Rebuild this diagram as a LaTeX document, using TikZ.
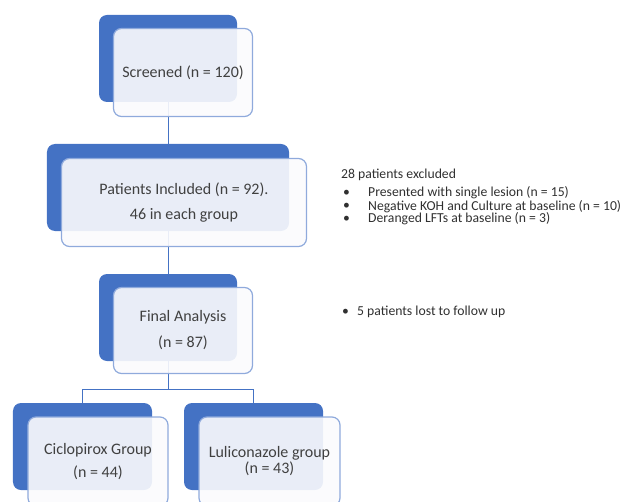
\documentclass[tikz,border=0pt]{standalone}
\usepackage{fontspec}
\setmainfont{Carlito}
\usetikzlibrary{calc}
\definecolor{darkblue}{HTML}{4472C4}
\definecolor{lightborder}{HTML}{8FAADC}
\definecolor{txt}{HTML}{404040}
\definecolor{sidetxt}{HTML}{303030}
\definecolor{frontfill}{HTML}{FBFBFD}
\tikzset{
  backbox/.style={fill=darkblue, draw=none, rounded corners=8bp, minimum height=87bp, inner sep=0pt},
  frontbox/.style={fill=frontfill, fill opacity=0.9, text opacity=1, draw=lightborder, draw opacity=1, line width=1.2bp, rounded corners=8bp, minimum height=88bp, inner sep=0pt, align=center, text=txt, font=\fontsize{16bp}{25bp}\selectfont},
  link/.style={draw=darkblue, line width=1bp},
  side/.style={anchor=west, inner sep=0pt, text=sidetxt, font=\fontsize{13.7bp}{16bp}\selectfont},
}
\begin{document}
\begin{tikzpicture}[x=1bp, y=-1bp]
\useasboundingbox (0,0) rectangle (625,502);
\clip (0,0) rectangle (625,502);
% back boxes
\node[backbox, minimum width=138bp] (b1) at (168,58.5) {};
\node[backbox, minimum width=242bp] (b2) at (168,187.5) {};
\node[backbox, minimum width=138bp] (b3) at (168,317.5) {};
\node[backbox, minimum width=139bp] (b4) at (82.5,446.5) {};
\node[backbox, minimum width=139bp] (b5) at (253.5,446.5) {};
% connectors
\draw[link] (b1.south) -- (b2.north);
\draw[link] (b2.south) -- (b3.north);
\coordinate (j) at ($(b3.south)+(0,28)$);
\draw[link] (b3.south) -- (j);
\draw[link] (j) -| (b4.north);
\draw[link] (j) -| (b5.north);
% front boxes
\node[frontbox, minimum width=139bp] (f1) at ($(b1)+(15,14)$) {Screened (n = 120)};
\node[frontbox, minimum width=245bp] (f2) at ($(b2)+(16,15)$) {Patients Included (n = 92).\\46 in each group};
\node[frontbox, minimum width=139bp, minimum height=86bp] (f3) at ($(b3)+(15,13)$) {Final Analysis\\[1bp](n = 87)};
\node[frontbox, minimum width=140bp, minimum height=89bp] (f4) at ($(b4)+(15.5,15)$) {Ciclopirox Group\\[-2bp](n = 44)};
\node[frontbox, minimum width=141bp, minimum height=89bp, font=\fontsize{16bp}{16bp}\selectfont] (f5) at ($(b5)+(16,15)$) {Luliconazole group\\(n = 43)};
% side notes
\node[side] (n0) at (341,175) {28 patients excluded};
\node[side] (d1) at (343,193) {•};
\node[side] (t1) at (368,193) {Presented with single lesion (n = 15)};
\node[side] (d2) at (343,206.5) {•};
\node[side] (t2) at (368,206.5) {Negative KOH and Culture at baseline (n = 10)};
\node[side] (d3) at (343,219) {•};
\node[side] (t3) at (368,219) {Deranged LFTs at baseline (n = 3)};
\node[side] (d4) at (342,312) {•};
\node[side] (t4) at (357,312) {5 patients lost to follow up};
\end{tikzpicture}
\end{document}
